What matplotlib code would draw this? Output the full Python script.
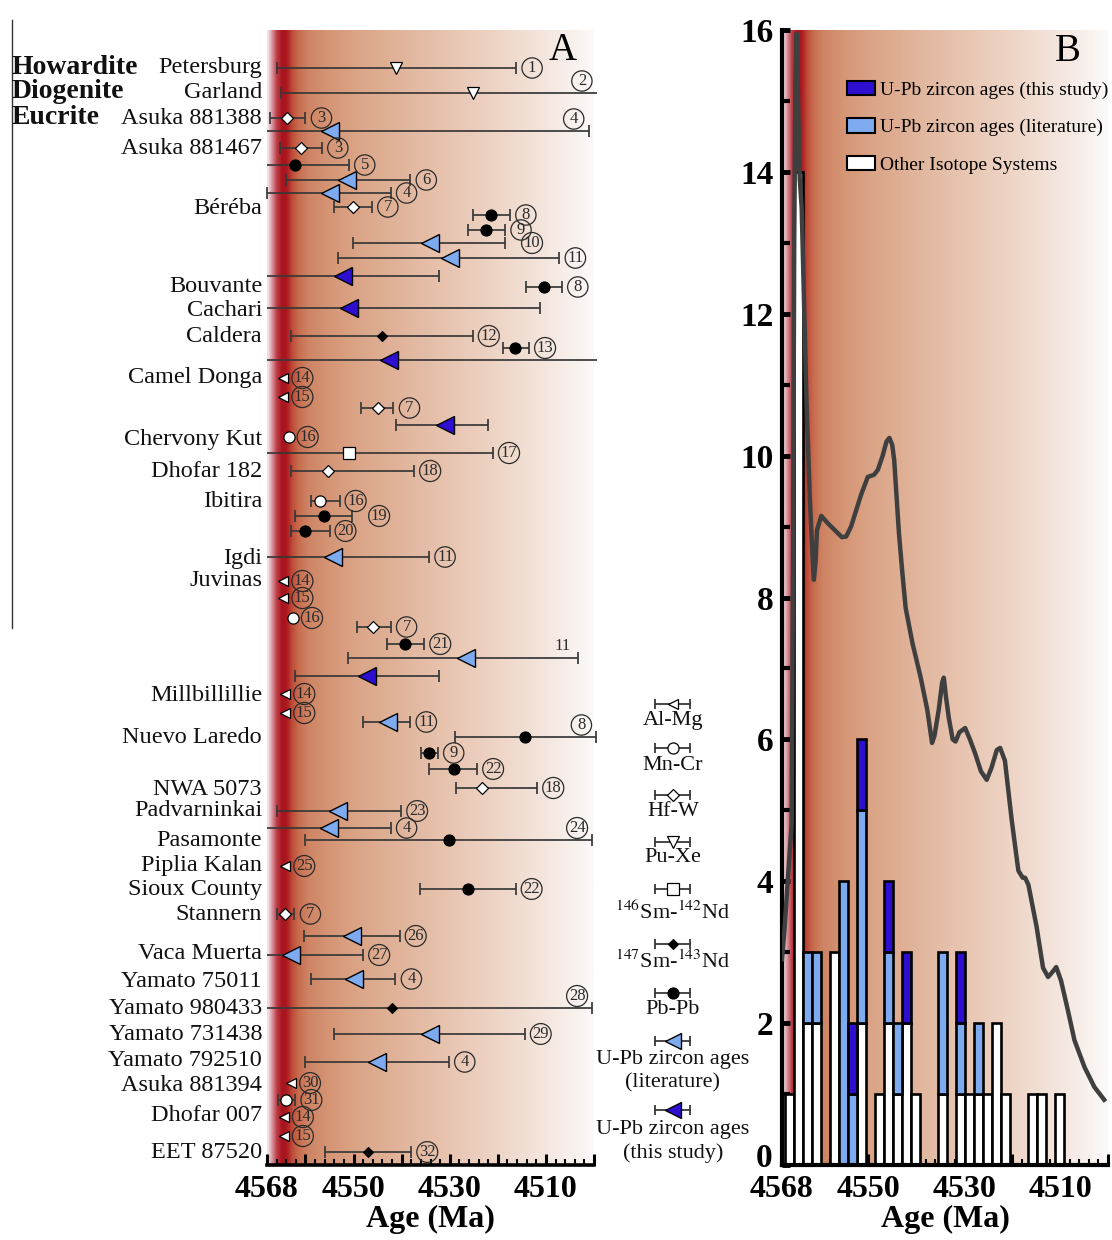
import numpy as np
import matplotlib
matplotlib.use("Agg")
import matplotlib.pyplot as plt
import matplotlib.transforms as mtransforms
from matplotlib.colors import LinearSegmentedColormap
from matplotlib.patches import Patch
from matplotlib.lines import Line2D
from matplotlib.ticker import FixedLocator

plt.rcParams['font.family'] = ['Liberation Serif', 'DejaVu Serif']
plt.rcParams['mathtext.fontset'] = 'stix'

# ------------------------------------------------------------------ data (panel A)
meteorites = ["Petersburg", "Garland", "Asuka 881388", "Asuka 881467", "Béréba", "Bouvante",
              "Cachari", "Caldera", "Camel Donga", "Chervony Kut", "Dhofar 182", "Ibitira",
              "Igdi", "Juvinas", "Millbillillie", "Nuevo Laredo", "NWA 5073", "Padvarninkai",
              "Pasamonte", "Piplia Kalan", "Sioux County", "Stannern", "Vaca Muerta",
              "Yamato 75011", "Yamato 980433", "Yamato 731438", "Yamato 792510",
              "Asuka 881394", "Dhofar 007", "EET 87520"]
classes = ["Howardite", "Diogenite", "Eucrite"]

methods = ["PuXe", "PuXe", "HfW", "UPb_lit", "HfW", "PbPb", "UPb_lit", "UPb_lit", "HfW", "PbPb",
           "PbPb", "UPb_lit", "UPb_lit", "UPb_new", "PbPb", "UPb_new", "SmNd147", "PbPb", "UPb_new", "AlMg",
           "AlMg", "HfW", "UPb_new", "MnCr", "SmNd146", "HfW", "MnCr", "PbPb", "PbPb", "UPb_lit",
           "AlMg", "AlMg", "MnCr", "HfW", "PbPb", "UPb_lit", "UPb_new", "AlMg", "AlMg", "UPb_lit",
           "PbPb", "PbPb", "PbPb", "HfW", "UPb_lit", "UPb_lit", "PbPb", "AlMg", "PbPb", "HfW",
           "UPb_lit", "UPb_lit", "UPb_lit", "SmNd147", "UPb_lit", "UPb_lit", "AlMg", "MnCr", "AlMg", "AlMg",
           "SmNd147"]
ages = [4541.2, 4525.2, 4563.8, 4555.0, 4560.9, 4562.1, 4551.3, 4555.0, 4550.2, 4521.4,
        4522.4, 4534.1, 4530.0, 4552.1, 4510.5, 4550.9, 4544.1, 4516.5, 4542.7, 4564.6,
        4564.6, 4545.0, 4531.0, 4563.5, 4550.9, 4555.3, 4557.0, 4556.2, 4560.1, 4554.3,
        4564.6, 4564.6, 4562.6, 4546.0, 4539.4, 4526.7, 4547.2, 4564.2, 4564.2, 4542.8,
        4514.4, 4534.3, 4529.2, 4523.3, 4553.2, 4555.1, 4530.2, 4564.2, 4526.3, 4564.2,
        4550.4, 4563.1, 4550.0, 4542.1, 4534.1, 4545.1, 4563.0, 4564.0, 4564.5, 4564.5,
        4547.0]
nan = np.nan
err_old = [4566.0, 4565.0, 4567.4, 4569.0, 4565.4, 4569.0, 4564.0, 4568.0, 4554.1, 4525.2,
           4526.1, 4550.2, 4553.2, 4569.0, 4514.2, 4569.0, 4563.0, 4518.9, 4569.0, nan,
           nan, 4548.4, 4541.2, nan, 4569.0, 4563.0, 4558.8, 4562.1, 4563.0, 4569.0,
           nan, nan, nan, 4549.2, 4543.1, 4551.1, 4562.1, nan, nan, 4548.0,
           4529.0, 4536.0, 4534.3, 4528.8, 4566.0, 4569.0, 4560.0, nan, 4536.1, 4566.0,
           4560.3, 4569.0, 4558.9, 4569.0, 4554.0, 4560.0, nan, 4565.7, nan, nan,
           4556.0]
err_young = [4516.2, 4499.0, 4560.0, 4501.1, 4556.6, 4551.0, 4538.2, 4542.3, 4546.2, 4517.5,
             4518.5, 4518.5, 4507.2, 4532.2, 4506.7, 4511.3, 4525.2, 4513.5, 4499.0, nan,
             nan, 4541.7, 4522.0, nan, 4521.0, 4537.4, 4552.9, 4550.3, 4555.0, 4534.3,
             nan, nan, nan, 4542.3, 4535.3, 4503.4, 4532.2, nan, nan, 4538.2,
             4499.5, 4532.5, 4524.3, 4511.8, 4540.1, 4542.3, 4500.4, nan, 4516.3, 4562.3,
             4540.4, 4548.0, 4541.3, 4500.4, 4514.4, 4530.2, nan, 4562.1, nan, nan,
             4538.0]
refs = ["1", "2", "3", "4", "3", "5", "6", "4", "7", "8",
        "9", "10", "11", "", "8", "", "12", "13", "", "14",
        "15", "7", "", "16", "17", "18", "16", "19", "20", "11",
        "14", "15", "16", "7", "21", "11", "", "14", "15", "11",
        "8", "9", "22", "18", "23", "4", "24", "25", "22", "7",
        "26", "27", "4", "28", "29", "4", "30", "31", "14", "15",
        "32"]

# ------------------------------------------------------------------ layout for panel A (row positions, label placement)
meteorite_rows = [3.8, 6.3, 8.8, 11.8, 17.8, 25.7, 28.0, 30.6, 34.8, 41.0, 44.1, 47.1, 52.8, 55.0,
                  66.5, 70.7, 75.9, 78.0, 81.0, 83.5, 85.9, 88.4, 92.3, 95.1, 97.8, 100.4, 103.0,
                  105.5, 108.5, 112.2]
class_rows = [3.7, 6.1, 8.8]
entry_rows = [3.8, 6.3, 8.8, 10.1, 11.8, 13.5, 15.0, 16.3, 17.7, 18.5,
              20.0, 21.3, 22.8, 24.6, 25.7, 27.8, 30.6, 31.8, 33.0, 34.8,
              36.7, 37.8, 39.5, 40.7, 42.3, 44.1, 47.1, 48.6, 50.1, 52.7,
              55.1, 56.8, 58.8, 59.7, 61.4, 62.8, 64.6, 66.4, 68.3, 69.2,
              70.7, 72.3, 73.9, 75.8, 78.1, 79.8, 81.0, 83.6, 85.9, 88.4,
              90.6, 92.5, 94.9, 97.8, 100.4, 103.2, 105.3, 107.0, 108.7, 110.6,
              112.2]
ref_place = ["r", "a", "r", "a", "r", "r", "r", "r", "r", "r",
             "r", "f", "r", "", "r", "", "r", "r", "", "r",
             "r", "r", "", "r", "r", "r", "r", "f", "r", "r",
             "r", "r", "r", "r", "r", "p", "", "r", "r", "r",
             "a", "r", "r", "r", "r", "r", "a", "r", "r", "r",
             "r", "r", "r", "a", "r", "r", "r", "r", "r", "r",
             "r"]

# ------------------------------------------------------------------ data (panel B)
n_other = [1, 14, 2, 2, 0, 3, 0, 0, 2, 0, 1, 2, 1, 2, 1, 0, 0, 1, 0, 1, 1, 1, 1, 2, 1, 0, 0, 1, 1, 0, 1]
n_lit = [0, 0, 1, 1, 0, 0, 4, 1, 3, 0, 0, 1, 1, 0, 0, 0, 0, 2, 0, 1, 0, 1, 0, 0, 0, 0, 0, 0, 0, 0, 0]
n_new = [0, 0, 0, 0, 0, 0, 0, 1, 1, 0, 0, 1, 0, 1, 0, 0, 0, 0, 0, 1, 0, 0, 0, 0, 0, 0, 0, 0, 0, 0, 0]
bin_start = 4567.45
bin_width = 1.883

kde_age = [4568.0, 4567.5, 4567.0, 4566.0, 4565.7, 4565.45, 4565.2, 4564.95, 4564.7, 4564.3,
           4563.9, 4563.6, 4562.9, 4562.2, 4561.5, 4561.35, 4561.0, 4560.7, 4559.8, 4558.5,
           4557.0, 4555.5, 4554.6, 4553.6, 4552.9, 4551.5, 4550.1, 4548.8, 4548.0, 4547.0,
           4546.2, 4545.6, 4545.0, 4544.6, 4543.6, 4542.9, 4542.2, 4540.8, 4539.1, 4537.7,
           4536.7, 4536.2, 4535.3, 4534.6, 4534.25, 4533.8, 4533.2, 4532.4, 4531.8, 4531.0,
           4529.8, 4528.8, 4527.7, 4526.5, 4525.3, 4524.3, 4523.2, 4522.5, 4521.5, 4520.1,
           4518.7, 4517.8, 4517.3, 4516.6, 4514.9, 4513.55, 4512.5, 4511.6, 4510.8, 4509.8,
           4508.4, 4507.0, 4504.9, 4502.85, 4500.8]
kde_density = [2.9, 3.3, 3.8, 4.8, 8.5, 13.0, 15.3, 15.95, 15.2, 13.9,
               13.5, 12.7, 10.8, 9.4, 8.4, 8.25, 8.5, 8.95, 9.15, 9.05,
               8.95, 8.85, 8.86, 9.0, 9.15, 9.45, 9.7, 9.73, 9.8, 10.0,
               10.2, 10.25, 10.15, 9.94, 8.9, 8.35, 7.85, 7.36, 6.88, 6.42,
               5.95, 6.05, 6.42, 6.8, 6.87, 6.6, 6.3, 6.0, 5.97, 6.1,
               6.16, 6.0, 5.8, 5.55, 5.43, 5.6, 5.85, 5.88, 5.7, 4.87,
               4.15, 4.05, 4.05, 3.95, 3.36, 2.78, 2.65, 2.72, 2.79, 2.6,
               2.19, 1.76, 1.38, 1.1, 0.92]

x_major = [4568, 4560, 4550, 4540, 4530, 4520, 4510, 4500]
x_major_labels = ["4568", "", "4550", "", "4530", "", "4510", ""]
x_minor = list(range(4566, 4500, -2))
y_major = list(range(0, 17, 2))
y_minor = list(range(1, 16, 2))

# ------------------------------------------------------------------ styles
LIGHT = '#7eabf0'
DARK = '#2e0fcf'
mstyle = {
    'AlMg': dict(marker='<', ms=7, mfc='white', mec='black', mew=0.9),
    'MnCr': dict(marker='o', ms=8, mfc='white', mec='black', mew=0.9),
    'HfW': dict(marker='D', ms=6.5, mfc='white', mec='black', mew=0.9),
    'PuXe': dict(marker='v', ms=9, mfc='white', mec='black', mew=0.9),
    'SmNd146': dict(marker='s', ms=8, mfc='white', mec='black', mew=0.9),
    'SmNd147': dict(marker='D', ms=5.5, mfc='black', mec='black', mew=0.8),
    'PbPb': dict(marker='o', ms=8, mfc='black', mec='black', mew=0.8),
    'UPb_lit': dict(marker='<', ms=12.5, mfc=LIGHT, mec='black', mew=1.0),
    'UPb_new': dict(marker='<', ms=12.5, mfc=DARK, mec='black', mew=1.0),
}
LINEC = '#383838'

grad_stops = [(4568.0, (242, 228, 230)), (4567.0, (215, 140, 150)), (4566.0, (185, 55, 62)),
              (4565.0, (168, 18, 30)), (4564.0, (172, 26, 32)), (4563.0, (190, 72, 55)),
              (4561.5, (200, 110, 80)), (4559.5, (206, 132, 100)), (4555.0, (213, 150, 118)),
              (4550.0, (218, 163, 133)), (4540.0, (225, 181, 156)), (4530.0, (232, 197, 177)),
              (4520.0, (238, 213, 198)), (4510.0, (244, 230, 222)), (4503.0, (249, 243, 240)),
              (4500.0, (252, 250, 249))]
cmap = LinearSegmentedColormap.from_list(
    'grad', [((4568.0 - a) / 68.0, tuple(c / 255 for c in col)) for a, col in grad_stops])


def draw_gradient(ax, y0, y1):
    xs = np.linspace(0, 1, 800)
    img = cmap(xs)[np.newaxis, :, :]
    ax.imshow(img, extent=(4568, 4500, y0, y1), aspect='auto', zorder=0,
              interpolation='bilinear')


def style_xaxis(ax):
    ax.set_xlim(4568, 4500)
    ax.xaxis.set_major_locator(FixedLocator(x_major))
    ax.xaxis.set_minor_locator(FixedLocator(x_minor))
    ax.set_xticklabels(x_major_labels, fontsize=23, fontweight='bold')
    ax.tick_params(axis='x', which='major', direction='in', length=8, width=2.2, pad=7)
    ax.tick_params(axis='x', which='minor', direction='in', length=4.5, width=1.5)
    ax.set_xlabel('Age (Ma)', fontsize=23, fontweight='bold', labelpad=1)


fig = plt.figure(figsize=(11.12, 12.4), dpi=100)
W, H = 1112.0, 1240.0

# ------------------------------------------------------------------ panel A
axA = fig.add_axes([267 / W, 75 / H, 327 / W, 1135 / H])
draw_gradient(axA, 113.5, 0)
axA.set_ylim(113.5, 0)
style_xaxis(axA)
axA.set_yticks([])
for s in ['left', 'right', 'top']:
    axA.spines[s].set_visible(False)
axA.spines['bottom'].set_linewidth(2.6)

PX = 0.72  # points per pixel at 100 dpi
for m, a, o, y_, r, rr, pl in zip(methods, ages, err_old, err_young, entry_rows, refs, ref_place):
    right_end = a
    if not np.isnan(o):
        x0 = min(o, 4568.0)
        x1 = max(y_, 4499.4)
        axA.plot([x0, x1], [r, r], color=LINEC, lw=1.25, zorder=3, clip_on=False,
                 solid_capstyle='butt')
        if o <= 4568.0:
            axA.plot([x0], [r], marker='|', ms=8, mew=1.25, color=LINEC, zorder=3, clip_on=False)
        if y_ >= 4499.45:
            axA.plot([x1], [r], marker='|', ms=8, mew=1.25, color=LINEC, zorder=3, clip_on=False)
        right_end = x1
    axA.plot([a], [r], linestyle='none', zorder=5, clip_on=False, **mstyle[m])
    if rr:
        if pl == 'r':
            off = (16 * PX if not np.isnan(o) else 19 * PX, 0)
        elif pl == 'f':
            off = (27 * PX, 0)
        else:
            off = (-15 * PX, 12 * PX)
        kw = dict(textcoords='offset points', ha='center', va='center', fontsize=12,
                  color='#2a2a2a', zorder=6, annotation_clip=False)
        if pl == 'p':
            axA.annotate(rr, (right_end, r), xytext=off, **kw)
        else:
            axA.annotate(rr, (right_end, r), xytext=off,
                         bbox=dict(boxstyle='circle,pad=0.13', fc='none', ec='#2a2a2a', lw=0.9), **kw)

# meteorite names
tr_names = mtransforms.blended_transform_factory(axA.transAxes, axA.transData)
for nm, r in zip(meteorites, meteorite_rows):
    axA.text(-0.015, r, nm, transform=tr_names, ha='right', va='center', fontsize=17.5,
             color='#111111')
tr_cls = mtransforms.blended_transform_factory(fig.transFigure, axA.transData)
for c, r in zip(classes, class_rows):
    fig.text(12 / W, r, c, transform=tr_cls, ha='left', va='center', fontsize=20,
             fontweight='bold', color='#111111')
axA.text(0.905, 0.982, 'A', transform=axA.transAxes, ha='center', va='center', fontsize=28)

# stray frame line at far left
fig.add_artist(Line2D([12 / W, 12 / W], [1 - 20 / H, 1 - 628 / H], color='#333333', lw=1.0))

# ------------------------------------------------------------------ legend of panel A
legax = fig.add_axes([600 / W, 65 / H, 160 / W, 485 / H])
legax.set_xlim(600, 760)
legax.set_ylim(1175, 690)
legax.axis('off')
leg_items = [('AlMg', 704, ['Al-Mg'], [721]),
             ('MnCr', 748, ['Mn-Cr'], [766]),
             ('HfW', 795, ['Hf-W'], [812]),
             ('PuXe', 842, ['Pu-Xe'], [858]),
             ('SmNd146', 889, [r'$^{146}$Sm-$^{142}$Nd'], [912]),
             ('SmNd147', 944, [r'$^{147}$Sm-$^{143}$Nd'], [962]),
             ('PbPb', 993, ['Pb-Pb'], [1010]),
             ('UPb_lit', 1041, ['U-Pb zircon ages', '(literature)'], [1060, 1083]),
             ('UPb_new', 1110, ['U-Pb zircon ages', '(this study)'], [1130, 1153])]
for m, ys, texts, yt in leg_items:
    legax.plot([655, 690], [ys, ys], color=LINEC, lw=1.3)
    legax.plot([655, 690], [ys, ys], linestyle='none', marker='|', ms=7, mew=1.3, color=LINEC)
    st = dict(mstyle[m])
    if m.startswith('UPb'):
        st['ms'] = 11
    legax.plot([673], [ys], linestyle='none', **st)
    for t, y in zip(texts, yt):
        legax.text(673, y, t, ha='center', va='center', fontsize=16, color='#111111')

# ------------------------------------------------------------------ panel B
axB = fig.add_axes([782 / W, 75 / H, 326 / W, 1135 / H])
draw_gradient(axB, 0, 16)
axB.set_ylim(0, 16)
style_xaxis(axB)
axB.yaxis.set_major_locator(FixedLocator(y_major))
axB.yaxis.set_minor_locator(FixedLocator(y_minor))
# the "0" label sits a little above its tick (as in the reference) so it clears "4568"
axB.set_yticklabels([''] + [str(v) for v in y_major[1:]], fontsize=24, fontweight='bold')
axB.annotate(str(y_major[0]), xy=(0, y_major[0]),
             xycoords=mtransforms.blended_transform_factory(axB.transAxes, axB.transData),
             xytext=(-7, 5), textcoords='offset points', ha='right', va='center',
             fontsize=24, fontweight='bold', annotation_clip=False)
axB.tick_params(axis='y', which='major', direction='in', length=6, width=3.5, pad=6)
axB.tick_params(axis='y', which='minor', direction='in', length=6, width=3.0)
for s in ['right', 'top']:
    axB.spines[s].set_visible(False)
axB.spines['left'].set_linewidth(3)
axB.spines['bottom'].set_linewidth(3)

other = np.array(n_other, dtype=float)
lit = np.array(n_lit, dtype=float)
new = np.array(n_new, dtype=float)
centers = bin_start - bin_width * (np.arange(len(other)) + 0.5)
for vals, bottoms, col in [(other, np.zeros_like(other), 'white'),
                           (lit, other, LIGHT),
                           (new, other + lit, DARK)]:
    mask = vals > 0
    axB.bar(centers[mask], vals[mask], bottom=bottoms[mask], width=bin_width, color=col,
            edgecolor='black', linewidth=1.9, zorder=2)

axB.plot(kde_age, kde_density, color='#3f3f3f', lw=3.2, zorder=4, solid_joinstyle='round')
axB.text(0.877, 0.981, 'B', transform=axB.transAxes, ha='center', va='center', fontsize=28)

handles = [Patch(facecolor=DARK, edgecolor='black', linewidth=1.5),
           Patch(facecolor=LIGHT, edgecolor='black', linewidth=1.5),
           Patch(facecolor='white', edgecolor='black', linewidth=1.5)]
labels = ['U-Pb zircon ages (this study)', 'U-Pb zircon ages (literature)', 'Other Isotope Systems']
axB.legend(handles, labels, loc='upper left', bbox_to_anchor=(0.2, 0.955), frameon=False,
           fontsize=14, handlelength=1.45, handleheight=0.75, handletextpad=0.25,
           labelspacing=1.0, borderaxespad=0, borderpad=0)

fig.savefig('out.png', dpi=100)
